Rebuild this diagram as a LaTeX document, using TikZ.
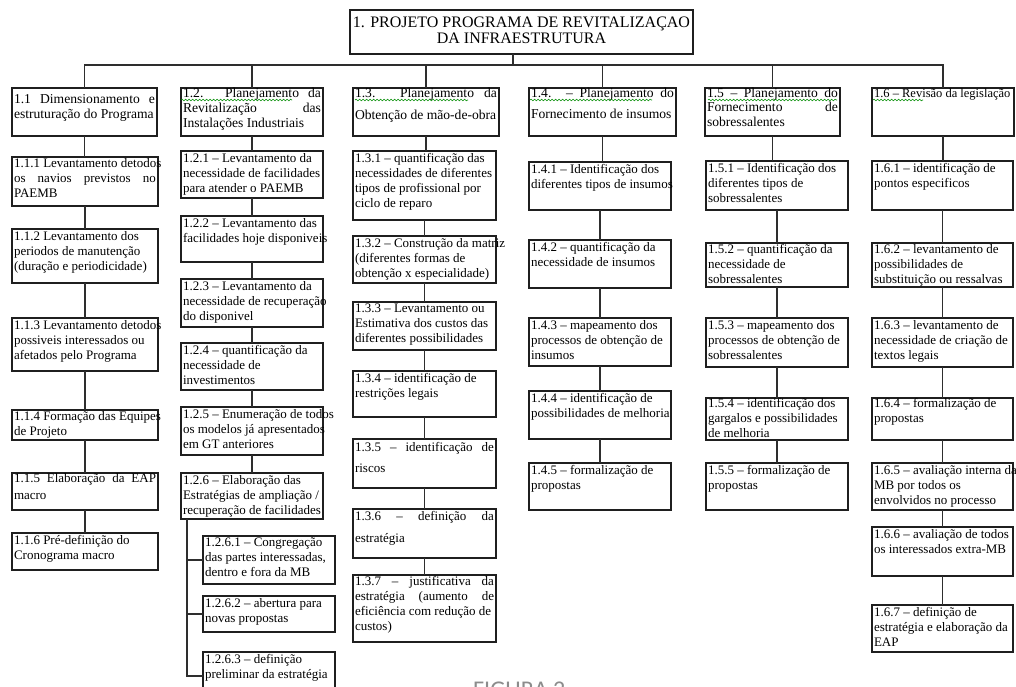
\documentclass[tikz,border=0pt]{standalone}
\usepackage{fontspec}
\setmainfont{Liberation Serif}
\newfontfamily\capfont{Carlito}
\usetikzlibrary{decorations.pathmorphing}

% one text line of a box: ragged, justified (spaces stretched) or centred
\newcommand\boxline[1]{\hbox to\linewidth{\rule[-4pt]{0pt}{9pt}#1\hss}}
\newcommand\boxjust[1]{\hbox to\linewidth{\rule[-4pt]{0pt}{9pt}#1}}
\newcommand\boxmid[1]{\hbox to\linewidth{\hss\rule[-4pt]{0pt}{9pt}#1\hss}}
\newcommand\gap[1]{\vskip#1pt}

% \bx[top skip]{style}{name}{x1}{y1}{x2}{y2}{lines}
\newcommand\bx[8][2]{%
  \node[#2] (#3) at (#4,#5)
    {\parbox[c][\dimexpr #7pt-#5pt\relax][t]{\dimexpr #6pt-#4pt-4pt\relax}{\vskip#1pt #8}};}

\tikzset{
  wbs/.style={draw=black!88, line width=1.4pt, anchor=north west,
    inner xsep=2pt, inner ysep=0pt, outer sep=0pt, text=black},
  top/.style={wbs, font=\fontsize{16}{16}\selectfont},
  lvA/.style={wbs, font=\fontsize{13.6}{15}\selectfont},
  lvB/.style={wbs, font=\fontsize{13}{15}\selectfont},
  wire/.style={draw=black!82, line width=1.7pt},
  squig/.style={draw=green!55!black, line width=0.6pt,
    decorate, decoration={snake, segment length=3.5pt, amplitude=0.8pt}},
}

\begin{document}
\begin{tikzpicture}[x=1pt, y=-1pt]
\useasboundingbox (0,0) rectangle (1016,687);
\fill[white] (0,0) rectangle (1016,687);

% root
\bx[7]{top}{title}{350}{10}{693}{54}{\boxmid{1. PROJETO PROGRAMA DE REVITALIZAÇAO}\boxmid{DA INFRAESTRUTURA}}

% first level
\bx[6]{lvA}{L11}{12}{88}{157}{136}{\boxjust{1.1 Dimensionamento e}\boxline{estruturação do Programa}}
\bx[0.5]{lvA}{L12}{181}{88}{323}{136}{\boxjust{1.2. Planejamento da}\boxjust{Revitalização das}\boxline{Instalações Industriais}}
\bx[0.5]{lvA}{L13}{353}{88}{499}{136}{\boxjust{1.3. Planejamento da}\gap{7}\boxline{Obtenção de mão-de-obra}}
\bx[0.5]{lvA}{L14}{529}{88}{676}{136}{\boxjust{1.4. – Planejamento do}\gap{6}\boxline{Fornecimento de insumos}}
\bx[0.5]{lvA}{L15}{705}{88}{840}{136}{\boxjust{1.5 – Planejamento do}\gap{-1.5}\boxjust{Fornecimento de}\boxline{sobressalentes}}
\bx[0.5]{lvB,font=\fontsize{12.5}{15}\selectfont}{L16}{872}{88}{1014}{136}{\boxline{1.6 – Revisão da legislação}}

% 1.1
\bx[1]{lvB}{C111}{12}{157}{158}{206}{\boxline{1.1.1 Levantamento detodos}\boxjust{os navios previstos no}\boxline{PAEMB}}
\bx{lvB}{C112}{12}{229}{158}{283}{\boxline{1.1.2 Levantamento dos}\boxline{periodos de manutenção}\boxline{(duração e periodicidade)}}
\bx{lvB}{C113}{12}{318}{158}{371}{\boxline{1.1.3 Levantamento detodos}\boxline{possiveis interessados ou}\boxline{afetados pelo Programa}}
\bx[1]{lvB}{C114}{12}{410}{158}{440}{\boxline{1.1.4 Formação das Equipes}\boxline{de Projeto}}
\bx[0.5]{lvB}{C115}{12}{473}{158}{510}{\boxjust{1.1.5  Elaboração da EAP}\gap{2}\boxline{macro}}
\bx{lvB}{C116}{12}{533}{158}{570}{\boxline{1.1.6 Pré-definição do}\boxline{Cronograma macro}}

% 1.2
\bx{lvB}{C121}{181}{151}{323}{198}{\boxline{1.2.1 – Levantamento da}\boxline{necessidade de facilidades}\boxline{para atender o PAEMB}}
\bx{lvB}{C122}{181}{216}{323}{262}{\boxline{1.2.2 – Levantamento das}\boxline{facilidades hoje disponiveis}}
\bx{lvB}{C123}{181}{279}{323}{327}{\boxline{1.2.3 – Levantamento da}\boxline{necessidade de recuperação}\boxline{do disponivel}}
\bx{lvB}{C124}{181}{343}{323}{390}{\boxline{1.2.4 – quantificação da}\boxline{necessidade de}\boxline{investimentos}}
\bx{lvB}{C125}{181}{407}{323}{455}{\boxline{1.2.5 – Enumeração de todos}\boxline{os modelos já apresentados}\boxline{em GT anteriores}}
\bx{lvB}{C126}{181}{473}{323}{519}{\boxline{1.2.6 – Elaboração das}\boxline{Estratégias de ampliação /}\boxline{recuperação de facilidades}}
\bx{lvB}{C1261}{203}{536}{335}{584}{\boxline{1.2.6.1 – Congregação}\boxline{das partes interessadas,}\boxline{dentro e fora da MB}}
\bx{lvB}{C1262}{203}{596}{335}{632}{\boxline{1.2.6.2 – abertura para}\boxline{novas propostas}}
\bx{lvB}{C1263}{203}{652}{335}{700}{\boxline{1.2.6.3 – definição}\boxline{preliminar da estratégia}}

% 1.3
\bx{lvB}{C131}{353}{151}{496}{220}{\boxline{1.3.1 – quantificação das}\boxline{necessidades de diferentes}\boxline{tipos de profissional por}\boxline{ciclo de reparo}}
\bx{lvB}{C132}{353}{236}{496}{283}{\boxline{1.3.2 – Construção da matriz}\boxline{(diferentes formas de}\boxline{obtenção x especialidade)}}
\bx{lvB}{C133}{353}{302}{496}{350}{\boxline{1.3.3 – Levantamento ou}\boxline{Estimativa dos custos das}\boxline{diferentes possibilidades}}
\bx{lvB}{C134}{353}{371}{496}{417}{\boxline{1.3.4 – identificação de}\boxline{restrições legais}}
\bx[3]{lvB}{C135}{353}{439}{496}{488}{\boxjust{1.3.5 – identificação de}\gap{6}\boxline{riscos}}
\bx[2.5]{lvB}{C136}{353}{509}{496}{558}{\boxjust{1.3.6 – definição da}\gap{7}\boxline{estratégia}}
\bx[1]{lvB}{C137}{353}{575}{496}{642}{\boxjust{1.3.7 – justificativa da}\boxjust{estratégia (aumento de}\boxline{eficiência com redução de}\boxline{custos)}}

% 1.4
\bx{lvB}{C141}{529}{162}{671}{210}{\boxline{1.4.1 – Identificação dos}\boxline{diferentes tipos de insumos}}
\bx{lvB}{C142}{529}{240}{671}{288}{\boxline{1.4.2 – quantificação da}\boxline{necessidade de insumos}}
\bx{lvB}{C143}{529}{318}{671}{366}{\boxline{1.4.3 – mapeamento dos}\boxline{processos de obtenção de}\boxline{insumos}}
\bx{lvB}{C144}{529}{391}{671}{439}{\boxline{1.4.4 – identificação de}\boxline{possibilidades de melhoria}}
\bx{lvB}{C145}{529}{463}{671}{510}{\boxline{1.4.5 – formalização de}\boxline{propostas}}

% 1.5
\bx{lvB}{C151}{706}{161}{848}{210}{\boxline{1.5.1 – Identificação dos}\boxline{diferentes tipos de}\boxline{sobressalentes}}
\bx[1]{lvB}{C152}{706}{243}{848}{287}{\boxline{1.5.2 – quantificação da}\boxline{necessidade de}\boxline{sobressalentes}}
\bx{lvB}{C153}{706}{318}{848}{367}{\boxline{1.5.3 – mapeamento dos}\boxline{processos de obtenção de}\boxline{sobressalentes}}
\bx[0.5]{lvB}{C154}{706}{398}{848}{440}{\boxline{1.5.4 – identificação dos}\boxline{gargalos e possibilidades}\boxline{de melhoria}}
\bx{lvB}{C155}{706}{463}{848}{510}{\boxline{1.5.5 – formalização de}\boxline{propostas}}

% 1.6
\bx{lvB}{C161}{872}{161}{1013}{210}{\boxline{1.6.1 – identificação de}\boxline{pontos especificos}}
\bx[1]{lvB}{C162}{872}{243}{1013}{287}{\boxline{1.6.2 – levantamento de}\boxline{possibilidades de}\boxline{substituição ou ressalvas}}
\bx{lvB}{C163}{872}{318}{1013}{367}{\boxline{1.6.3 – levantamento de}\boxline{necessidade de criação de}\boxline{textos legais}}
\bx[0.5]{lvB}{C164}{872}{398}{1013}{440}{\boxline{1.6.4 – formalização de}\boxline{propostas}}
\bx{lvB}{C165}{872}{463}{1013}{510}{\boxline{1.6.5 – avaliação interna da}\boxline{MB por todos os}\boxline{envolvidos no processo}}
\bx{lvB}{C166}{872}{527}{1013}{576}{\boxline{1.6.6 – avaliação de todos}\boxline{os interessados extra-MB}}
\bx{lvB}{C167}{872}{605}{1013}{652}{\boxline{1.6.7 – definição de}\boxline{estratégia e elaboração da}\boxline{EAP}}

% root to first level
\coordinate (bus) at (513,65);
\draw[wire] (title.south -| bus) -- (bus);
\foreach \n in {L11,L12,L13,L14,L15,L16}
  \draw[wire] (\n.north) |- (bus);

% vertical chains
\foreach \a/\b in {L11/C111,C111/C112,C112/C113,C113/C114,C114/C115,C115/C116,
                   L12/C121,C121/C122,C122/C123,C123/C124,C124/C125,C125/C126,
                   L13/C131,C131/C132,C132/C133,C133/C134,C134/C135,C135/C136,C136/C137,
                   L14/C141,C141/C142,C142/C143,C143/C144,C144/C145,
                   L15/C151,C151/C152,C152/C153,C153/C154,C154/C155,
                   L16/C161,C161/C162,C162/C163,C163/C164,C164/C165,C165/C166,C166/C167}
  \draw[wire] (\a.south) -- (\a.south |- \b.north);

% side bracket under 1.2.6
\coordinate (br) at ([xshift=6pt]C126.south west);
\foreach \c in {C1261,C1262,C1263}
  \draw[wire] (br) |- (\c.west);

% spell-check underlines
\draw[squig] (181,100) -- (292,100);
\draw[squig] (355,100) -- (468,100);
\draw[squig] (530,100) -- (652,100);
\draw[squig] (708,100) -- (837,100);
\draw[squig] (873,100) -- (923,100);

% caption, cut by the page edge
\node[anchor=base west, inner sep=0pt, text=black!45, font=\capfont\fontsize{24}{24}\selectfont] (fig) at (473,697.5) {FIGURA 2};
\end{tikzpicture}
\end{document}
